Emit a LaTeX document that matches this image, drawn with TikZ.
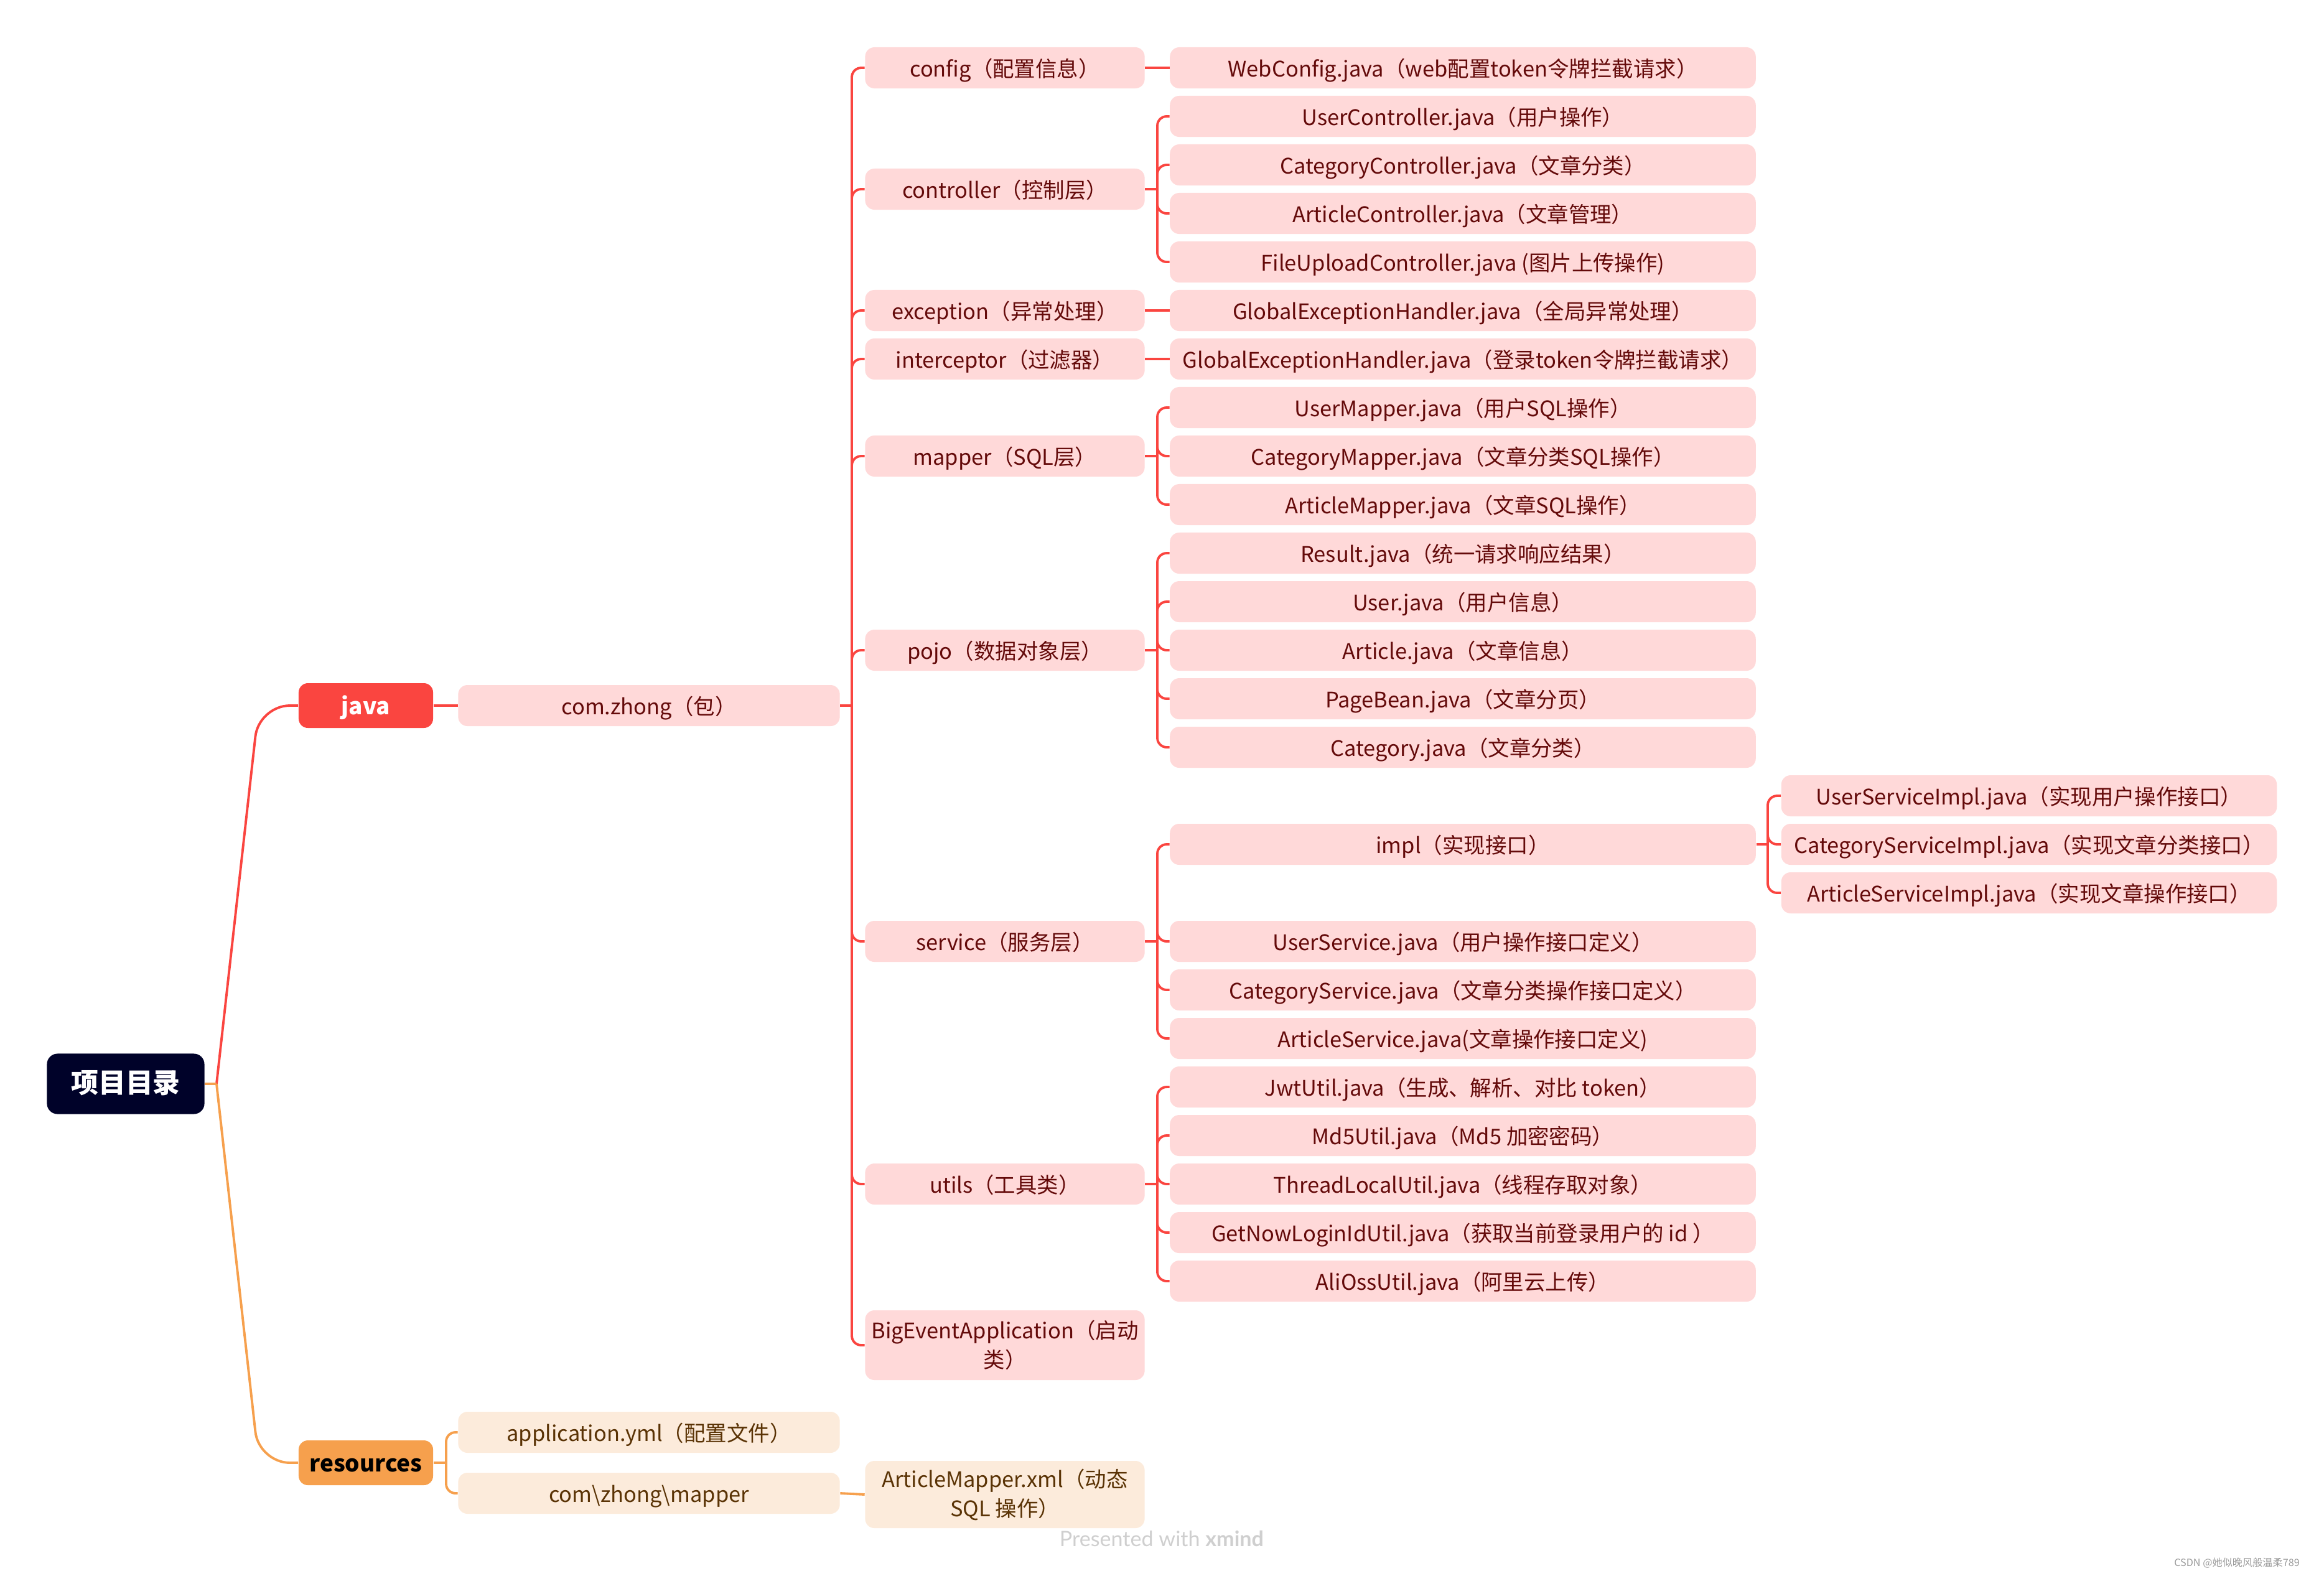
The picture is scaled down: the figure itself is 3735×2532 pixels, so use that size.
\documentclass[tikz,border=0pt]{standalone}
\usepackage{fontspec}
\setmainfont{Noto Sans CJK SC}
\newfontfamily\markfont{Lato}
\usepackage{xcolor}

\definecolor{rootnavy}{HTML}{000229}
\definecolor{javared}{HTML}{FA4540}
\definecolor{resorange}{HTML}{F6A04D}
\definecolor{pinkfill}{HTML}{FFD9D9}
\definecolor{pinktext}{HTML}{640A0A}
\definecolor{creamfill}{HTML}{FCEBDB}
\definecolor{creamtext}{HTML}{5A3305}
\definecolor{markgray}{HTML}{CFCFCF}

\tikzstyle{central} = [rectangle, rounded corners=0.17cm, minimum width=2.53cm, minimum height=0.97cm, text height=0.95em, text depth=0.13em, fill=rootnavy, text=white, font=\fontsize{12.5}{15}\selectfont\bfseries]
\tikzstyle{mainbox} = [rectangle, rounded corners=0.15cm, minimum width=2.16cm, minimum height=0.72cm, text height=0.95em, text depth=0.13em, font=\fontsize{10.5}{13}\selectfont\bfseries]
\tikzstyle{pinkbox} = [rectangle, rounded corners=0.15cm, minimum height=0.66cm, inner sep=0pt, text height=0.95em, text depth=0.13em, fill=pinkfill, text=pinktext, align=center, font=\fontsize{9.8}{13.3}\selectfont]
\tikzstyle{creambox} = [pinkbox, fill=creamfill, text=creamtext]
\tikzstyle{twoline} = [text height=, text depth=, yshift=-0.02cm]
\tikzstyle{colB} = [minimum width=6.13cm]
\tikzstyle{colC} = [minimum width=4.49cm]
\tikzstyle{colD} = [minimum width=9.41cm]
\tikzstyle{colE} = [minimum width=7.96cm]
\tikzstyle{redlink} = [javared, line width=1.1pt, rounded corners=0.15cm]
\tikzstyle{orangelink} = [resorange, line width=1.1pt, rounded corners=0.15cm]

\begin{document}
\begin{tikzpicture}[x=0.01cm, y=-0.01cm]
\useasboundingbox (0,0) rectangle (3735,2532);

\node at (202,1742) (root) [central] {项目目录};
\node at (588,1134) (java) [mainbox, fill=javared, text=white] {java};
\node at (588,2351) (resources) [mainbox, fill=resorange, text=black] {resources};

\node at (1043,1134) (comzhong) [pinkbox, colB] {com.zhong（包）};
\node at (1043,2302) (appyml) [creambox, colB] {application.yml（配置文件）};
\node at (1043,2400) (mapperdir) [creambox, colB] {com\textbackslash zhong\textbackslash mapper};

\node at (1615,109) (config) [pinkbox, colC] {config（配置信息）};
\node at (1615,304) (controller) [pinkbox, colC] {controller（控制层）};
\node at (1615,499) (exception) [pinkbox, colC] {exception（异常处理）};
\node at (1615,577) (interceptor) [pinkbox, colC] {interceptor（过滤器）};
\node at (1615,733) (mapper) [pinkbox, colC] {mapper（SQL层）};
\node at (1615,1045) (pojo) [pinkbox, colC] {pojo（数据对象层）};
\node at (1615,1513) (service) [pinkbox, colC] {service（服务层）};
\node at (1615,1903) (utils) [pinkbox, colC] {utils（工具类）};
\node at (1615,2160) (bigevent) [pinkbox, colC, twoline, minimum height=1.12cm] {BigEventApplication（启动\\类）};
\node at (1615,2400) (mapperxml) [creambox, colC, twoline, minimum height=1.08cm] {ArticleMapper.xml（动态\\SQL 操作）};

\node at (2351,109) (webconfig) [pinkbox, colD] {WebConfig.java（web配置token令牌拦截请求）};
\node at (2351,187) (userctl) [pinkbox, colD] {UserController.java（用户操作）};
\node at (2351,265) (categoryctl) [pinkbox, colD] {CategoryController.java（文章分类）};
\node at (2351,343) (articlectl) [pinkbox, colD] {ArticleController.java（文章管理）};
\node at (2351,421) (uploadctl) [pinkbox, colD] {FileUploadController.java (图片上传操作)};
\node at (2351,499) (globalexc) [pinkbox, colD] {GlobalExceptionHandler.java（全局异常处理）};
\node at (2351,577) (logininter) [pinkbox, colD] {GlobalExceptionHandler.java（登录token令牌拦截请求）};
\node at (2351,655) (usermapper) [pinkbox, colD] {UserMapper.java（用户SQL操作）};
\node at (2351,733) (categorymapper) [pinkbox, colD] {CategoryMapper.java（文章分类SQL操作）};
\node at (2351,811) (articlemapper) [pinkbox, colD] {ArticleMapper.java（文章SQL操作）};
\node at (2351,889) (result) [pinkbox, colD] {Result.java（统一请求响应结果）};
\node at (2351,967) (user) [pinkbox, colD] {User.java（用户信息）};
\node at (2351,1045) (article) [pinkbox, colD] {Article.java（文章信息）};
\node at (2351,1123) (pagebean) [pinkbox, colD] {PageBean.java（文章分页）};
\node at (2351,1201) (category) [pinkbox, colD] {Category.java（文章分类）};
\node at (2351,1357) (impl) [pinkbox, colD] {impl（实现接口）};
\node at (2351,1513) (usersvc) [pinkbox, colD] {UserService.java（用户操作接口定义）};
\node at (2351,1591) (categorysvc) [pinkbox, colD] {CategoryService.java（文章分类操作接口定义）};
\node at (2351,1669) (articlesvc) [pinkbox, colD] {ArticleService.java(文章操作接口定义)};
\node at (2351,1747) (jwtutil) [pinkbox, colD] {JwtUtil.java（生成、解析、对比 token）};
\node at (2351,1825) (md5util) [pinkbox, colD] {Md5Util.java（Md5 加密密码）};
\node at (2351,1903) (threadutil) [pinkbox, colD] {ThreadLocalUtil.java（线程存取对象）};
\node at (2351,1981) (loginidutil) [pinkbox, colD] {GetNowLoginIdUtil.java（获取当前登录用户的 id ）};
\node at (2351,2059) (ossutil) [pinkbox, colD] {AliOssUtil.java（阿里云上传）};

\node at (3261,1279) (usersvcimpl) [pinkbox, colE] {UserServiceImpl.java（实现用户操作接口）};
\node at (3261,1357) (categorysvcimpl) [pinkbox, colE] {CategoryServiceImpl.java（实现文章分类接口）};
\node at (3261,1435) (articlesvcimpl) [pinkbox, colE] {ArticleServiceImpl.java（实现文章操作接口）};

\node at (1867,2473) (xmindmark) [text=markgray, font=\markfont\fontsize{9.7}{12}\selectfont] {Presented with \textbf{xmind}};
\node at (3595,2512) (csdnmark) [text=gray!80, font=\fontsize{4.6}{6}\selectfont] {CSDN @她似晚风般温柔789};

% junctions
\coordinate (rootj) at (348,1742);
\coordinate (czj) at (1369,1134);
\coordinate (resj) at (717,2351);
\coordinate (ctlj) at (1860,304);
\coordinate (mapj) at (1860,733);
\coordinate (pojoj) at (1860,1045);
\coordinate (svcj) at (1860,1513);
\coordinate (utilj) at (1860,1903);
\coordinate (implj) at (2841,1357);

\draw [redlink, rounded corners=0.5cm] (rootj) -- (416,1134) -- (java.west);
\draw [orangelink, rounded corners=0.5cm] (rootj) -- (416,2351) -- (resources.west);
\draw [orangelink] (root.east) -- (rootj);

\draw [redlink] (java.east) -- (comzhong.west);
\draw [redlink] (comzhong.east) -- (czj);
\draw [redlink] (czj) |- (config.west);
\draw [redlink] (czj) |- (controller.west);
\draw [redlink] (czj) |- (exception.west);
\draw [redlink] (czj) |- (interceptor.west);
\draw [redlink] (czj) |- (mapper.west);
\draw [redlink] (czj) |- (pojo.west);
\draw [redlink] (czj) |- (service.west);
\draw [redlink] (czj) |- (utils.west);
\draw [redlink] (czj) |- (bigevent.west);

\draw [redlink] (config.east) -- (webconfig.west);
\draw [redlink] (controller.east) -- (ctlj);
\draw [redlink] (ctlj) |- (userctl.west);
\draw [redlink] (ctlj) |- (categoryctl.west);
\draw [redlink] (ctlj) |- (articlectl.west);
\draw [redlink] (ctlj) |- (uploadctl.west);
\draw [redlink] (exception.east) -- (globalexc.west);
\draw [redlink] (interceptor.east) -- (logininter.west);
\draw [redlink] (mapper.east) -- (mapj);
\draw [redlink] (mapj) |- (usermapper.west);
\draw [redlink] (mapj) |- (categorymapper.west);
\draw [redlink] (mapj) |- (articlemapper.west);
\draw [redlink] (pojo.east) -- (pojoj);
\draw [redlink] (pojoj) |- (result.west);
\draw [redlink] (pojoj) |- (user.west);
\draw [redlink] (pojoj) |- (article.west);
\draw [redlink] (pojoj) |- (pagebean.west);
\draw [redlink] (pojoj) |- (category.west);
\draw [redlink] (service.east) -- (svcj);
\draw [redlink] (svcj) |- (impl.west);
\draw [redlink] (svcj) |- (usersvc.west);
\draw [redlink] (svcj) |- (categorysvc.west);
\draw [redlink] (svcj) |- (articlesvc.west);
\draw [redlink] (impl.east) -- (implj);
\draw [redlink] (implj) |- (usersvcimpl.west);
\draw [redlink] (implj) |- (categorysvcimpl.west);
\draw [redlink] (implj) |- (articlesvcimpl.west);
\draw [redlink] (utils.east) -- (utilj);
\draw [redlink] (utilj) |- (jwtutil.west);
\draw [redlink] (utilj) |- (md5util.west);
\draw [redlink] (utilj) |- (threadutil.west);
\draw [redlink] (utilj) |- (loginidutil.west);
\draw [redlink] (utilj) |- (ossutil.west);

\draw [orangelink] (resources.east) -- (resj);
\draw [orangelink] (resj) |- (appyml.west);
\draw [orangelink] (resj) |- (mapperdir.west);
\draw [orangelink] (mapperdir.east) -- (mapperxml.west);

\end{tikzpicture}
\end{document}
